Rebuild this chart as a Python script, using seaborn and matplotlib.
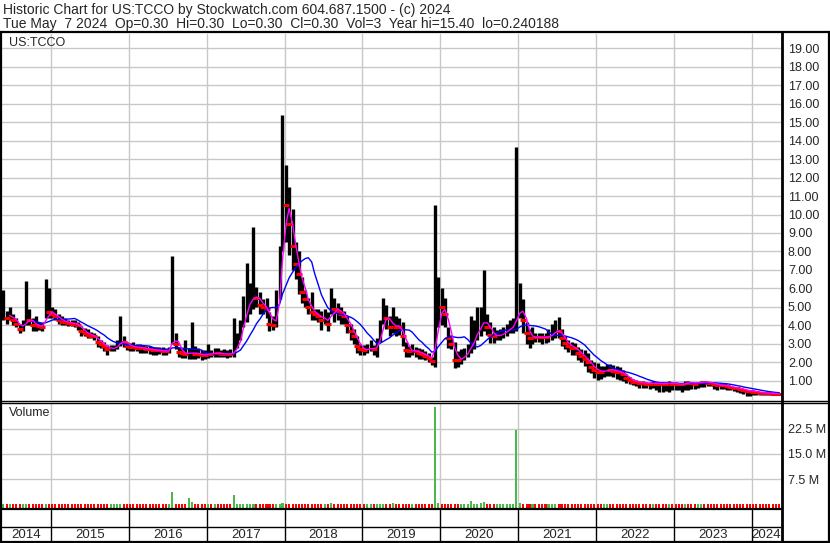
import numpy as np
import pandas as pd
import matplotlib
matplotlib.use("Agg")
import matplotlib.pyplot as plt
import matplotlib.dates as mdates
from matplotlib.lines import Line2D
import seaborn as sns

# half-month summaries (high / low / close), USD
high_2014 = [5.9, 4.8, 5.0, 4.6, 4.4, 4.1, 4.3, 6.4, 4.9, 4.4, 4.5, 4.2, 4.2, 6.5, 6.0]
low_2014 = [4.3, 4.1, 4.3, 4.0, 3.9, 3.6, 3.7, 4.0, 4.0, 3.7, 3.7, 3.75, 3.7, 4.4, 4.4]
close_2014 = [4.6, 4.4, 4.6, 4.3, 4.1, 3.8, 4.0, 4.5, 4.3, 4.0, 4.0, 3.95, 3.9, 4.9, 4.7]

high_2015 = [5.0, 4.9, 4.6, 4.5, 4.4, 4.3, 4.3, 4.3, 4.2, 3.95, 3.85, 3.8, 3.65, 3.6, 3.4, 3.2, 3.1, 2.95, 2.95, 2.95, 3.2, 4.5, 3.4, 3.1]
low_2015 = [4.4, 4.3, 4.1, 4.0, 4.0, 3.95, 3.95, 3.9, 3.75, 3.4, 3.4, 3.3, 3.3, 3.2, 2.85, 2.75, 2.6, 2.4, 2.6, 2.6, 2.7, 2.9, 2.85, 2.65]
close_2015 = [4.6, 4.5, 4.3, 4.2, 4.2, 4.15, 4.1, 4.1, 4.0, 3.7, 3.6, 3.5, 3.45, 3.4, 3.1, 3.0, 2.9, 2.7, 2.75, 2.8, 2.9, 3.3, 3.1, 2.9]

high_2016 = [3.05, 3.1, 3.0, 3.0, 2.95, 2.9, 2.9, 2.85, 2.85, 2.85, 2.85, 2.75, 2.85, 7.75, 3.6, 2.85, 2.8, 3.2, 2.75, 4.2, 2.9, 2.75, 2.65, 2.65]
low_2016 = [2.6, 2.6, 2.6, 2.5, 2.5, 2.5, 2.45, 2.4, 2.4, 2.45, 2.4, 2.4, 2.5, 3.0, 2.7, 2.3, 2.25, 2.25, 2.2, 2.2, 2.2, 2.25, 2.15, 2.2]
close_2016 = [2.85, 2.85, 2.8, 2.8, 2.75, 2.7, 2.7, 2.65, 2.65, 2.65, 2.6, 2.6, 2.65, 3.8, 3.0, 2.55, 2.5, 2.45, 2.5, 2.55, 2.45, 2.45, 2.4, 2.4]

high_2017 = [3.0, 2.65, 2.75, 2.8, 2.65, 2.7, 2.65, 2.7, 4.4, 3.6, 4.3, 5.6, 7.4, 6.3, 9.3, 6.1, 5.8, 5.4, 5.5, 4.7, 4.5, 5.9, 8.3, 15.4]
low_2017 = [2.25, 2.3, 2.3, 2.3, 2.3, 2.3, 2.25, 2.3, 2.3, 2.75, 3.2, 3.9, 4.2, 4.6, 4.9, 5.0, 4.6, 4.6, 4.4, 3.7, 3.75, 3.9, 5.4, 8.0]
close_2017 = [2.5, 2.45, 2.5, 2.5, 2.45, 2.45, 2.45, 2.45, 2.6, 3.1, 3.7, 4.8, 5.2, 5.4, 5.7, 5.5, 5.1, 5.0, 4.9, 4.1, 4.0, 4.6, 7.0, 11.0]

high_2018 = [12.7, 11.5, 10.3, 8.5, 8.0, 6.6, 5.9, 5.5, 5.8, 4.9, 4.9, 4.8, 4.9, 4.7, 6.0, 5.5, 5.2, 5.0, 4.8, 4.5, 4.1, 3.8, 3.4, 3.0]
low_2018 = [8.5, 7.8, 7.0, 6.5, 5.7, 5.2, 5.0, 4.6, 4.3, 4.3, 4.2, 3.75, 4.1, 3.7, 4.6, 4.2, 4.3, 4.1, 4.1, 3.6, 3.2, 3.0, 2.5, 2.4]
close_2018 = [10.5, 9.5, 8.3, 7.3, 6.8, 5.8, 5.4, 5.0, 4.7, 4.6, 4.5, 4.3, 4.4, 4.1, 5.0, 4.9, 4.8, 4.6, 4.5, 4.0, 3.7, 3.4, 2.9, 2.7]

high_2019 = [2.95, 3.0, 3.2, 2.95, 3.3, 4.3, 5.5, 5.1, 4.5, 5.0, 4.5, 4.4, 4.2, 3.1, 2.9, 3.0, 2.85, 2.8, 2.7, 2.6, 2.5, 2.3, 10.5, 6.6]
low_2019 = [2.4, 2.5, 2.6, 2.4, 2.3, 3.1, 4.1, 3.8, 3.4, 3.6, 3.4, 3.5, 2.9, 2.3, 2.3, 2.4, 2.3, 2.2, 2.2, 2.1, 2.0, 1.85, 1.75, 3.9]
close_2019 = [2.65, 2.7, 2.85, 2.7, 2.75, 3.8, 4.8, 4.4, 3.9, 4.1, 3.9, 3.9, 3.4, 2.65, 2.6, 2.65, 2.6, 2.5, 2.45, 2.35, 2.25, 2.05, 4.0, 5.0]

high_2020 = [6.0, 5.5, 3.9, 3.5, 3.1, 2.6, 2.7, 2.8, 3.0, 4.5, 4.3, 5.0, 5.0, 7.0, 4.6, 4.2, 3.9, 3.75, 3.8, 3.9, 4.1, 4.3, 4.4, 13.65]
low_2020 = [4.0, 3.9, 2.8, 2.7, 1.7, 1.75, 1.9, 2.1, 2.3, 2.5, 2.7, 3.2, 3.4, 3.7, 3.5, 3.05, 3.05, 3.2, 3.2, 3.3, 3.4, 3.6, 3.6, 3.7]
close_2020 = [5.0, 4.6, 3.3, 3.0, 2.1, 2.1, 2.3, 2.4, 2.6, 3.2, 3.4, 3.9, 4.1, 4.4, 3.9, 3.5, 3.4, 3.45, 3.5, 3.6, 3.8, 3.9, 4.0, 4.8]

high_2021 = [6.3, 5.4, 4.2, 3.8, 3.9, 3.6, 3.6, 3.6, 3.6, 3.8, 4.1, 4.3, 4.45, 3.8, 3.4, 3.2, 3.1, 3.05, 2.85, 2.7, 2.65, 2.5, 2.1, 2.0]
low_2021 = [4.4, 3.6, 3.0, 2.8, 3.0, 3.1, 3.1, 3.0, 3.05, 3.1, 3.2, 3.3, 3.3, 2.9, 2.7, 2.55, 2.4, 2.4, 2.15, 2.0, 1.8, 1.5, 1.4, 1.15]
close_2021 = [5.2, 4.3, 3.6, 3.3, 3.4, 3.35, 3.35, 3.35, 3.35, 3.4, 3.6, 3.8, 3.7, 3.3, 3.05, 2.9, 2.8, 2.75, 2.5, 2.35, 2.2, 2.0, 1.75, 1.6]

high_2022 = [1.95, 1.8, 1.8, 1.9, 1.9, 1.85, 1.8, 1.75, 1.6, 1.35, 1.2, 1.1, 1.05, 1.0, 1.0, 0.95, 0.95, 1.0, 0.95, 0.95, 0.95, 0.95, 1.0, 0.95]
low_2022 = [1.05, 1.1, 1.2, 1.25, 1.25, 1.2, 1.1, 1.05, 1.0, 0.9, 0.8, 0.75, 0.7, 0.6, 0.6, 0.6, 0.55, 0.6, 0.5, 0.4, 0.4, 0.45, 0.4, 0.5]
close_2022 = [1.5, 1.5, 1.55, 1.6, 1.6, 1.55, 1.5, 1.45, 1.35, 1.15, 1.05, 0.95, 0.95, 0.9, 0.9, 0.85, 0.85, 0.9, 0.85, 0.85, 0.85, 0.85, 0.9, 0.85]

high_2023 = [0.95, 0.9, 0.9, 1.0, 1.0, 0.95, 0.9, 0.95, 1.0, 1.0, 0.95, 0.95, 0.85, 0.8, 0.8, 0.8, 0.75, 0.7, 0.68, 0.65, 0.6, 0.55, 0.5, 0.5]
low_2023 = [0.5, 0.5, 0.4, 0.5, 0.5, 0.55, 0.55, 0.6, 0.65, 0.65, 0.7, 0.7, 0.55, 0.5, 0.55, 0.55, 0.5, 0.5, 0.45, 0.4, 0.35, 0.3, 0.2, 0.2]
close_2023 = [0.85, 0.8, 0.8, 0.9, 0.9, 0.9, 0.85, 0.9, 0.95, 0.95, 0.9, 0.9, 0.8, 0.75, 0.75, 0.75, 0.7, 0.65, 0.62, 0.6, 0.55, 0.5, 0.45, 0.45]

high_2024 = [0.5, 0.45, 0.42, 0.4, 0.38, 0.36, 0.35, 0.34, 0.33]
low_2024 = [0.25, 0.25, 0.24, 0.25, 0.25, 0.25, 0.26, 0.27, 0.28]
close_2024 = [0.42, 0.4, 0.36, 0.35, 0.33, 0.32, 0.31, 0.3, 0.3]

# volume per half month, millions of shares
vol_2014 = [0.05, 0.05, 0.05, 0.05, 0.05, 0.05, 0.05, 0.05, 0.05, 0.05, 0.05, 0.05, 0.05, 0.2, 0.05]
vol_2015 = [0.05] * 24
vol_2016 = [0.05, 0.05, 0.05, 0.05, 0.05, 0.05, 0.05, 0.05, 0.05, 0.05, 0.05, 0.05, 0.05, 3.8, 0.1, 0.05, 0.05, 0.05, 2.0, 0.8, 0.1, 0.05, 0.05, 0.05]
vol_2017 = [0.05, 0.05, 0.05, 0.05, 0.05, 0.05, 0.05, 0.05, 2.8, 0.05, 0.05, 0.05, 0.2, 0.05, 0.1, 0.05, 0.05, 0.05, 0.05, 0.05, 0.05, 0.2, 0.05, 0.3]
vol_2018 = [0.1, 0.05, 0.05, 0.05, 0.05, 0.05, 0.05, 0.05, 0.05, 0.05, 0.05, 0.05, 0.05, 0.05, 0.3, 0.05, 0.05, 0.05, 0.05, 0.05, 0.05, 0.05, 0.05, 0.05]
vol_2019 = [0.05, 0.05, 0.05, 0.05, 0.05, 0.05, 0.1, 0.05, 0.05, 0.3, 0.05, 0.05, 0.05, 0.05, 0.05, 0.05, 0.05, 0.05, 0.05, 0.05, 0.05, 0.05, 29.0, 0.4]
vol_2020 = [0.1, 0.05, 0.05, 0.05, 0.05, 0.05, 0.05, 0.05, 0.05, 1.0, 0.1, 0.05, 0.5, 0.8, 0.2, 0.05, 0.05, 0.05, 0.05, 0.05, 0.05, 0.05, 0.05, 22.1]
vol_2021 = [0.4, 0.1] + [0.05] * 22
vol_2022 = [0.05] * 24
vol_2023 = [0.05] * 24
vol_2024 = [0.05] * 9

years = list(range(2014, 2025))
price_ticks = list(range(1, 20))
vol_ticks = [7.5, 15.0, 22.5]
vol_labels = ["7.5 M", "15.0 M", "22.5 M"]

title_1 = "Historic Chart for US:TCCO by Stockwatch.com 604.687.1500 - (c) 2024"
title_2 = "Tue May  7 2024  Op=0.30  Hi=0.30  Lo=0.30  Cl=0.30  Vol=3  Year hi=15.40  lo=0.240188"

high = high_2014 + high_2015 + high_2016 + high_2017 + high_2018 + high_2019 + high_2020 + high_2021 + high_2022 + high_2023 + high_2024
low = low_2014 + low_2015 + low_2016 + low_2017 + low_2018 + low_2019 + low_2020 + low_2021 + low_2022 + low_2023 + low_2024
close = close_2014 + close_2015 + close_2016 + close_2017 + close_2018 + close_2019 + close_2020 + close_2021 + close_2022 + close_2023 + close_2024
vol = vol_2014 + vol_2015 + vol_2016 + vol_2017 + vol_2018 + vol_2019 + vol_2020 + vol_2021 + vol_2022 + vol_2023 + vol_2024

# samples sit mid-way through each half month
dates = pd.date_range("2014-05-15", periods=len(close), freq="SMS") + pd.Timedelta(days=7)
df = pd.DataFrame({"date": dates, "high": high, "low": low, "close": close, "vol": vol})
df["ma_fast"] = df["close"].rolling(3).mean()
df["ma_slow"] = df["close"].rolling(10).mean()
df["down"] = df["close"].diff() <= 0

sns.set_style("white")
plt.rcParams["font.family"] = ["Liberation Sans", "DejaVu Sans"]
plt.rcParams["font.size"] = 9

W, H = 830, 543
def fx(px):
    return px / W
def fy(py):
    return 1 - py / H

fig = plt.figure(figsize=(W / 100, H / 100), dpi=100)
fig.patch.set_facecolor("white")

x0, x1 = 2, 781
ax_p = fig.add_axes([fx(x0), fy(400), fx(x1) - fx(x0), fy(34) - fy(400)])
ax_v = fig.add_axes([fx(x0), fy(508), fx(x1) - fx(x0), fy(403) - fy(508)])
ax_d = fig.add_axes([fx(x0), fy(541), fx(x1) - fx(x0), fy(510) - fy(541)])

xlim = (mdates.date2num(pd.Timestamp("2014-05-17")), mdates.date2num(pd.Timestamp("2024-05-16")))
year_lines = [mdates.date2num(pd.Timestamp(f"{y}-01-01")) for y in years[1:]]
grid_c = "#c8c8c8"

# price panel
for yl in year_lines:
    ax_p.axvline(yl, color=grid_c, lw=1, zorder=0)
for t in price_ticks:
    ax_p.axhline(t, color=grid_c, lw=1, zorder=0)
ax_p.vlines(df["date"], df["low"], df["high"], color="black", lw=2.4, zorder=2)
dn = df[df["down"]]
ax_p.plot(dn["date"], dn["close"], ls="none", marker="_", ms=4, mew=2.2, color="#ff0000", zorder=3)
sns.lineplot(data=df, x="date", y="ma_slow", ax=ax_p, color="#0000ff", lw=1, zorder=4)
sns.lineplot(data=df, x="date", y="ma_fast", ax=ax_p, color="#ff00ff", lw=1, zorder=5)
ax_p.set_ylim(-0.04, 19.77)
ax_p.set_yticks(price_ticks)
ax_p.set_yticklabels([f"{t:.2f}" for t in price_ticks])
ax_p.text(0.009, 0.975, "US:TCCO", transform=ax_p.transAxes, ha="left", va="center", fontsize=9)

# volume panel; bars rise from the panel floor, a little under zero
vol_floor, vol_top = -1.04, 30.08
for yl in year_lines:
    ax_v.axvline(yl, color=grid_c, lw=1, zorder=0)
for t in vol_ticks:
    ax_v.axhline(t, color=grid_c, lw=1, zorder=0)
bar_c = np.where(df["down"], "#ff0000", "#4cb84c")
ax_v.bar(df["date"], df["vol"] - vol_floor, bottom=vol_floor, width=9.5, color=bar_c,
         linewidth=0, antialiased=False, zorder=2)
ax_v.set_ylim(vol_floor, vol_top)
ax_v.set_yticks(vol_ticks)
ax_v.set_yticklabels(vol_labels)
ax_v.text(0.009, 0.9, "Volume", transform=ax_v.transAxes, ha="left", va="center", fontsize=9)

for ax in (ax_p, ax_v):
    ax.set_xlim(*xlim)
    ax.yaxis.tick_right()
    ax.tick_params(axis="y", length=0, pad=5, labelsize=9)
    ax.tick_params(axis="x", bottom=False, labelbottom=False)
    ax.set_xlabel("")
    ax.set_ylabel("")
    for s in ax.spines.values():
        s.set_visible(False)
    ax.set_facecolor("none")

# date strip
ax_d.set_xlim(*xlim)
ax_d.set_ylim(0, 1)
ax_d.axis("off")
ax_d.axhline(0.45, color="black", lw=1)
for yl in year_lines:
    ax_d.axvline(yl, color="black", lw=1)
edges = [xlim[0]] + year_lines + [xlim[1]]
for y, a, b in zip(years, edges[:-1], edges[1:]):
    ax_d.text((a + b) / 2, 0.2, str(y), ha="center", va="center", fontsize=9.5)

# frame lines (figure pixels)
def hline(py, a, b, lw=1.0):
    fig.add_artist(Line2D([fx(a), fx(b)], [fy(py), fy(py)], color="black", lw=lw))
def vline(px, a, b, lw=1.0):
    fig.add_artist(Line2D([fx(px), fx(px)], [fy(a), fy(b)], color="black", lw=lw))

hline(32, 0, 830, 1.6)
hline(400.5, 0, 830, 1.0)
hline(403, 0, 830, 1.0)
hline(509, 0, 781, 1.6)
hline(542, 0, 830, 1.6)
vline(1, 32, 543, 1.6)
vline(781.5, 32, 543, 2.0)
vline(829, 32, 543, 1.6)

fig.text(fx(3), fy(10), title_1, ha="left", va="center", fontsize=10)
fig.text(fx(3), fy(24), title_2, ha="left", va="center", fontsize=10)

fig.savefig("out.png", dpi=100)
plt.close(fig)
